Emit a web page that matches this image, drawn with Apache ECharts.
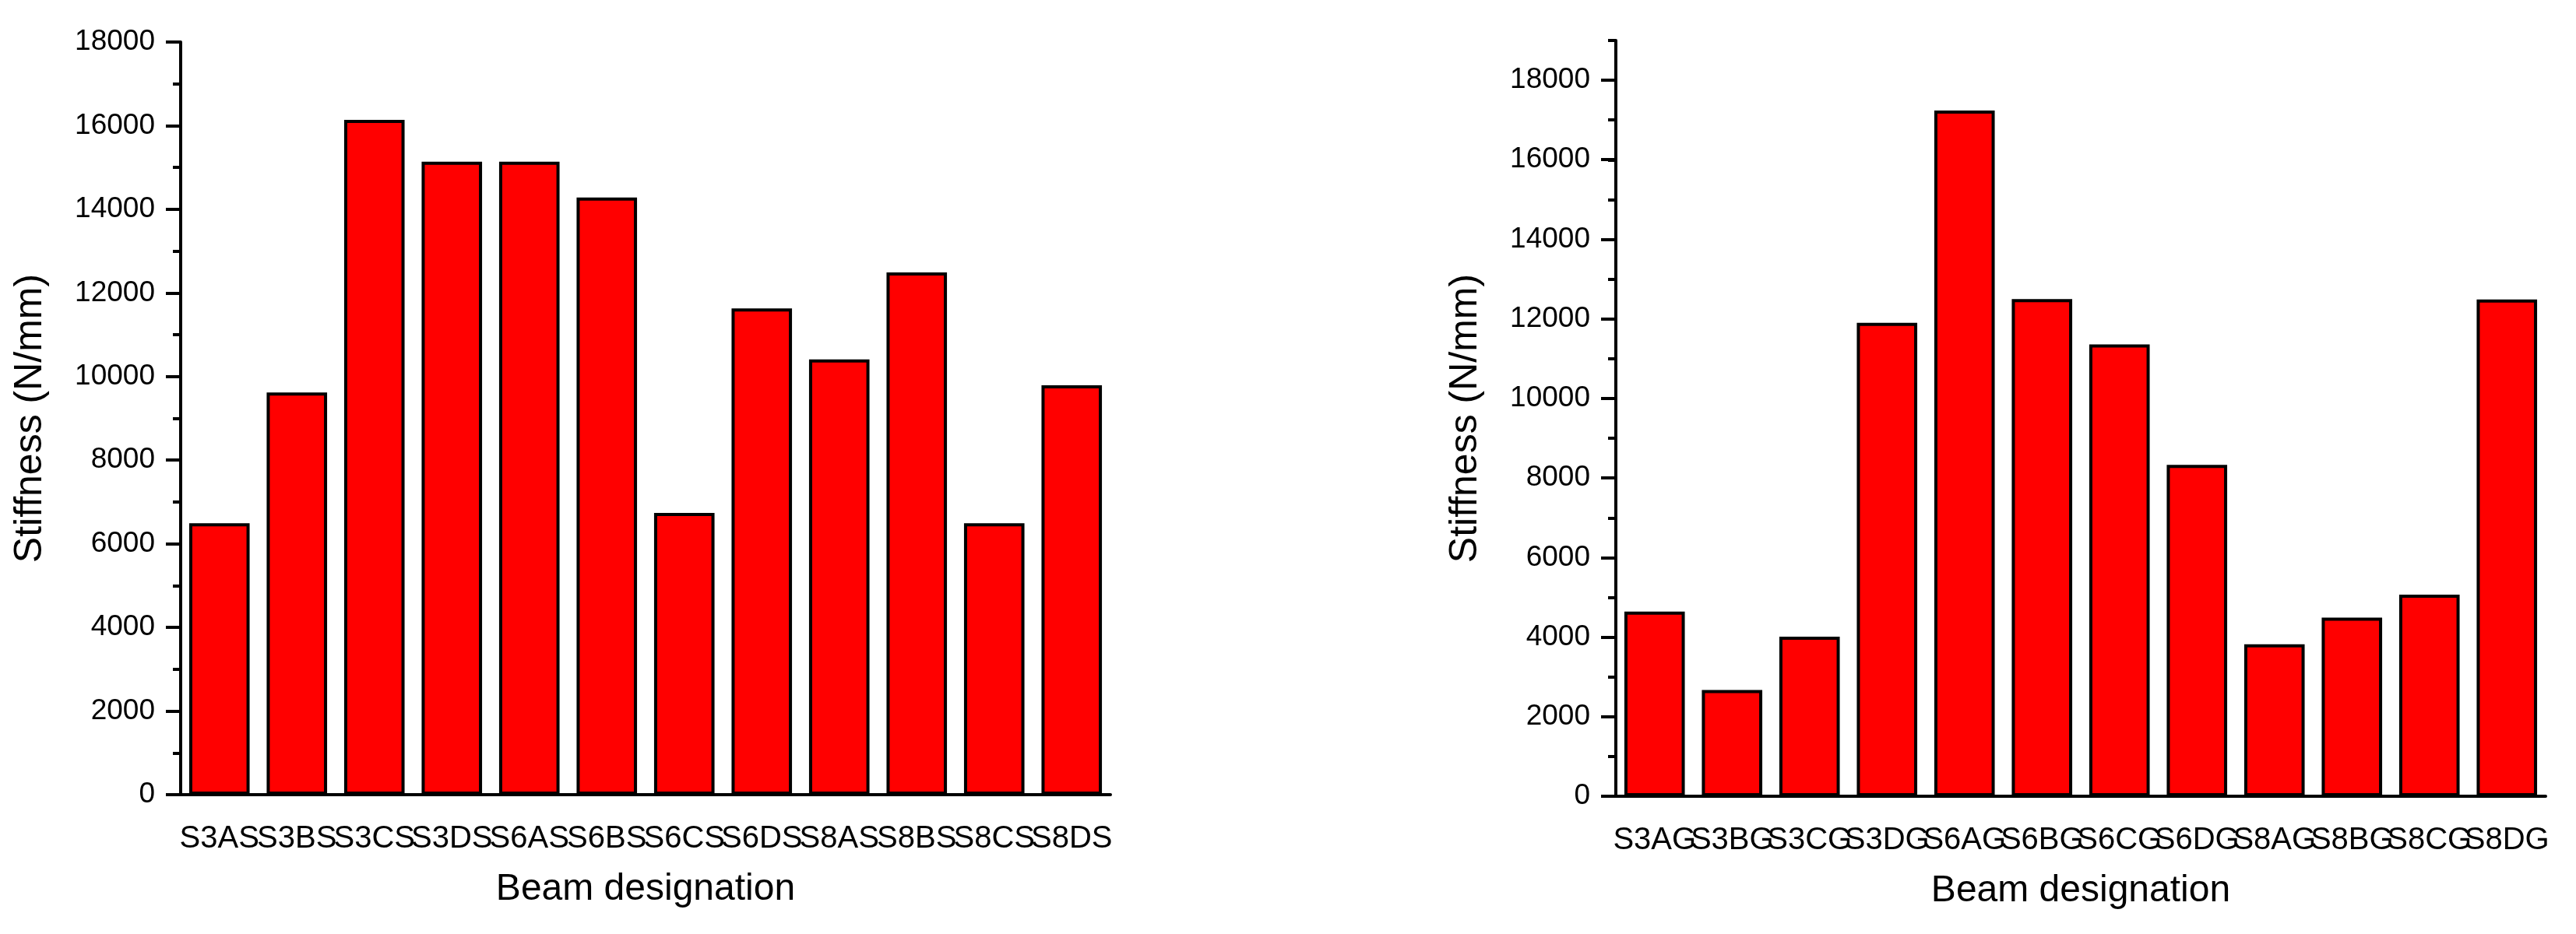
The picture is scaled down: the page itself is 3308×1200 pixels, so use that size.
<!DOCTYPE html>
<html>
<head>
<meta charset="utf-8">
<script src="https://cdn.jsdelivr.net/npm/echarts@6/dist/echarts.min.js"></script>
<style>
html, body { margin: 0; padding: 0; background: #fff; }
#main { width: 3308px; height: 1200px; }
</style>
</head>
<body>
<div id="main"></div>
<script>
// shear-span beams (left) and G-series beams (right)
var leftCats = ['S3AS', 'S3BS', 'S3CS', 'S3DS', 'S6AS', 'S6BS', 'S6CS', 'S6DS', 'S8AS', 'S8BS', 'S8CS', 'S8DS'];
var leftStiffness = [6490, 9620, 16140, 15140, 15140, 14280, 6740, 11630, 10410, 12490, 6490, 9790];
var rightCats = ['S3AG', 'S3BG', 'S3CG', 'S3DG', 'S6AG', 'S6BG', 'S6CG', 'S6DG', 'S8AG', 'S8BG', 'S8CG', 'S8DG'];
var rightStiffness = [4640, 2670, 4010, 11900, 17240, 12500, 11360, 8330, 3820, 4490, 5070, 12490];

var font = 'Arial, "Liberation Sans", sans-serif';
var black = '#000';

// use a narrow face for the crowded category labels if one is installed
function hasFont(name) {
	var ctx = document.createElement('canvas').getContext('2d');
	ctx.font = '40px monospace';
	var w0 = ctx.measureText('S3ASS3BSmmwwii').width;
	ctx.font = '40px "' + name + '", monospace';
	return ctx.measureText('S3ASS3BSmmwwii').width !== w0;
}
var catFont = font, catSize = 40;
if (hasFont('Liberation Sans Narrow')) {
	catFont = '"Liberation Sans Narrow", ' + font;
	catSize = 42;
}

function catAxis(grid, cats, withLabels) {
	return {
		type : 'category',
		gridIndex : grid,
		data : cats,
		axisLine : { show : withLabels, lineStyle : { color : black, width : 4 } },
		axisTick : withLabels
			? { alignWithLabel : true, length : 20, lineStyle : { color : black, width : 4 } }
			: { length : 10, lineStyle : { color : black, width : 4 } },
		axisLabel : {
			show : withLabels,
			interval : 0,
			margin : 37,
			color : black,
			fontSize : catSize,
			fontFamily : catFont
		},
		name : withLabels ? 'Beam designation' : '',
		nameLocation : 'middle',
		nameGap : 98,
		nameTextStyle : { color : black, fontSize : 48, fontFamily : font },
		splitLine : { show : false }
	};
}

var yName = {
	name : 'Stiffness (N/mm)',
	nameLocation : 'middle',
	nameGap : 168,
	nameTextStyle : { color : black, fontSize : 50, fontFamily : font }
};
var yLabel = {
	color : black,
	fontSize : 37,
	fontFamily : font,
	margin : 33,
	formatter : function (v) { return String(v); }
};

var barStyle = { color : '#ff0000', borderColor : black, borderWidth : 4 };

var chart = echarts.init(document.getElementById('main'));
chart.setOption({
	animation : false,
	backgroundColor : '#fff',
	grid : [
		{ left : 232, width : 1194, top : 54, bottom : 179 },
		{ left : 2075, width : 1194, top : 52, bottom : 177 },
		{ left : 2075, width : 1194, top : 103, bottom : 177 }
	],
	xAxis : [
		catAxis(0, leftCats, true),
		catAxis(0, leftCats, false),
		catAxis(1, rightCats, true),
		catAxis(1, rightCats, false),
		{ type : 'category', gridIndex : 2, data : rightCats, show : false }
	],
	yAxis : [
		Object.assign({
			type : 'value',
			gridIndex : 0,
			min : 0,
			max : 18000,
			interval : 2000,
			axisLine : { show : true, lineStyle : { color : black, width : 4 } },
			axisTick : { show : true, length : 19, lineStyle : { color : black, width : 4 } },
			minorTick : { show : true, splitNumber : 2, length : 10, lineStyle : { color : black, width : 4 } },
			axisLabel : yLabel,
			splitLine : { show : false }
		}, yName),
		Object.assign({
			type : 'value',
			gridIndex : 1,
			min : 0,
			max : 19000,
			interval : 1000,
			axisLine : { show : true, lineStyle : { color : black, width : 4 } },
			axisTick : { show : true, length : 10, lineStyle : { color : black, width : 4 } },
			axisLabel : { show : false },
			splitLine : { show : false }
		}, yName),
		{
			type : 'value',
			gridIndex : 2,
			min : 0,
			max : 18000,
			interval : 2000,
			axisLine : { show : false },
			axisTick : { show : true, length : 19, lineStyle : { color : black, width : 4 } },
			axisLabel : yLabel,
			splitLine : { show : false }
		}
	],
	series : [ {
		type : 'bar',
		xAxisIndex : 0,
		yAxisIndex : 0,
		barWidth : '78%',
		itemStyle : barStyle,
		data : leftStiffness
	}, {
		type : 'bar',
		xAxisIndex : 2,
		yAxisIndex : 1,
		barWidth : '78%',
		itemStyle : barStyle,
		data : rightStiffness
	} ]
});
</script>
</body>
</html>
